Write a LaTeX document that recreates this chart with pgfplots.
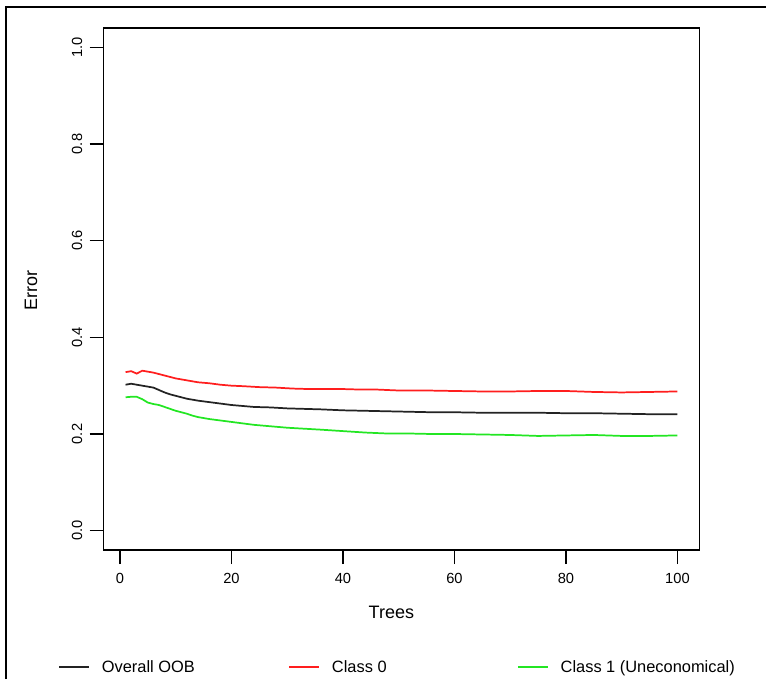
\documentclass[border=0pt]{standalone}
\usepackage{pgfplots}
\pgfplotsset{compat=1.18}
\usepackage{fontspec}
\setmainfont{Liberation Sans}
\definecolor{oobcol}{RGB}{35,35,35}
\definecolor{c0col}{RGB}{255,30,30}
\definecolor{c1col}{RGB}{35,230,35}

\begin{document}
\begin{tikzpicture}
% page = 766 x 679 px at 0.75pt/px, axis box lower-left at origin
\useasboundingbox (-77.625pt,-96.75pt) rectangle (496.875pt,412.5pt);
\draw[line width=1.5pt] (-72.75pt,-96.75pt) -- (-72.75pt,407.25pt) -- (496.875pt,407.25pt);
\begin{axis}[
    at={(0,0)}, anchor=south west,
    scale only axis,
    width=447pt, height=391.5pt,
    xmin=-2.96, xmax=103.96,
    ymin=-0.04, ymax=1.04,
    xtick={0,20,40,60,80,100},
    xticklabels={0,20,40,60,80,100},
    ytick={0,0.2,0.4,0.6,0.8,1},
    yticklabels={0.0,0.2,0.4,0.6,0.8,1.0},
    xtick pos=bottom, ytick pos=left,
    tick align=outside,
    major tick length=10.5pt,
    axis line style={line width=1.1pt},
    every tick/.style={line width=1.1pt, black},
    tick label style={font=\fontsize{11}{13}\selectfont},
    xticklabel style={anchor=north, inner sep=0pt, yshift=-6.75pt},
    yticklabel style={rotate=90, anchor=south, inner sep=0pt, yshift=5.25pt},
    xlabel={Trees}, ylabel={Error},
    label style={font=\fontsize{13.5}{16}\selectfont},
    xlabel style={at={(axis description cs:0.483,0)}, anchor=base, inner sep=0pt, yshift=-51pt},
    ylabel style={at={(axis description cs:-0.1216,0.498)}, anchor=center, inner sep=0pt},
    legend columns=3,
    legend image code/.code={\draw[#1] (0pt,0pt) -- (22.5pt,0pt); \path (31.5pt,0pt);},
    legend style={at={(axis description cs:-0.0765,-0.2241)}, anchor=west,
        draw=none, fill=none, inner sep=0pt,
        font=\fontsize{12.3}{14}\selectfont,
        nodes={inner sep=0pt, text height=8.8pt, text depth=0pt},
        cells={anchor=west}},
    every axis plot/.append style={line width=1.3pt, mark=none},
]
\addplot[oobcol] coordinates {
(1,0.302) (2,0.304) (3,0.302) (4,0.300) (5,0.298) (6,0.296) (7,0.291) (8,0.286)
(9,0.282) (10,0.279) (11,0.276) (12,0.273) (13,0.271) (14,0.269) (16,0.266)
(18,0.263) (20,0.260) (22,0.258) (24,0.256) (27,0.255) (30,0.253) (33,0.252)
(36,0.251) (40,0.249) (44,0.248) (48,0.247) (52,0.246) (56,0.245) (60,0.245)
(65,0.244) (70,0.244) (75,0.244) (80,0.243) (85,0.243) (90,0.242) (95,0.241)
(100,0.241)};
\addlegendentry{\makebox[139.75pt][l]{Overall OOB}}
\addplot[c0col] coordinates {
(1,0.328) (2,0.330) (3,0.325) (4,0.331) (5,0.329) (6,0.327) (7,0.324) (8,0.321)
(9,0.318) (10,0.315) (12,0.311) (14,0.307) (16,0.305) (18,0.302) (20,0.300)
(22,0.299) (25,0.297) (28,0.296) (31,0.294) (34,0.293) (37,0.293) (40,0.293)
(43,0.292) (46,0.292) (50,0.290) (55,0.290) (60,0.289) (65,0.288) (70,0.288)
(75,0.289) (80,0.289) (85,0.287) (90,0.286) (95,0.287) (100,0.288)};
\addlegendentry{\makebox[138.75pt][l]{Class 0}}
\addplot[c1col] coordinates {
(1,0.276) (2,0.277) (3,0.277) (4,0.272) (5,0.265) (6,0.262) (7,0.260) (8,0.256)
(9,0.252) (10,0.248) (11,0.245) (12,0.242) (13,0.238) (14,0.235) (16,0.231)
(18,0.228) (20,0.225) (22,0.222) (24,0.219) (27,0.216) (30,0.213) (33,0.211)
(36,0.209) (40,0.206) (44,0.203) (48,0.201) (52,0.201) (56,0.200) (60,0.200)
(65,0.199) (70,0.198) (75,0.196) (80,0.197) (85,0.198) (90,0.196) (95,0.196)
(100,0.197)};
\addlegendentry{Class 1 (Uneconomical)}
\end{axis}
\end{tikzpicture}
\end{document}
